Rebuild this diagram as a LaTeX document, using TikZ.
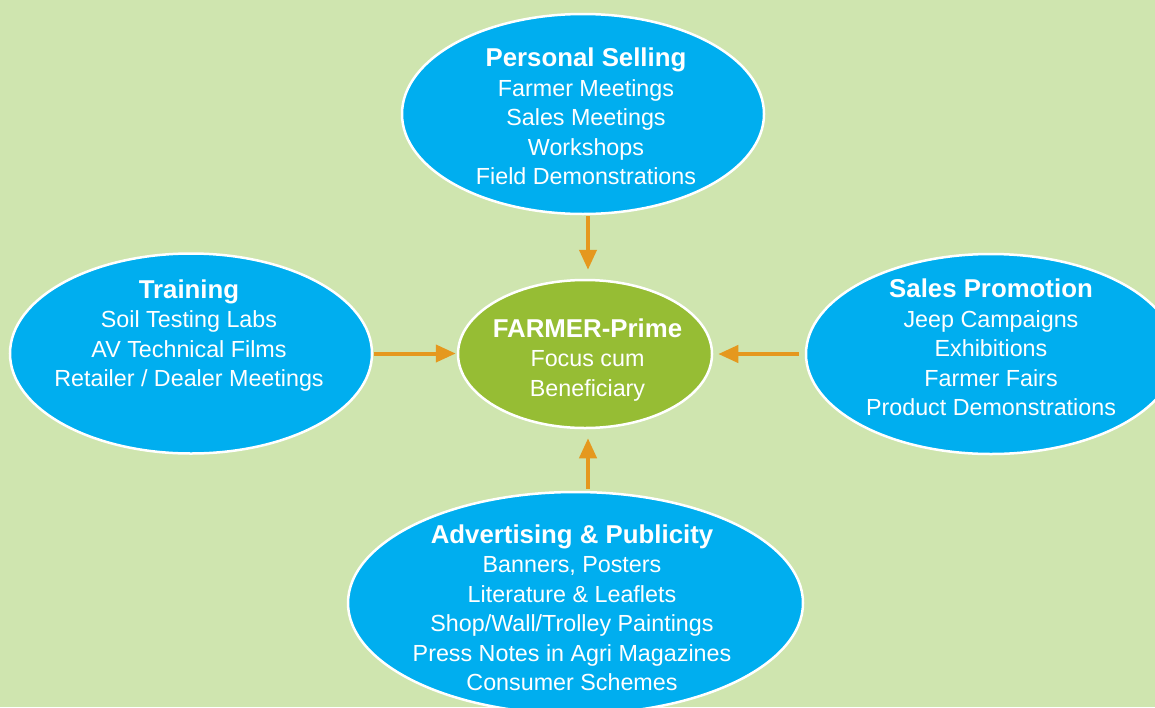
\documentclass[tikz,border=0pt]{standalone}
\usepackage{fontspec}
\setmainfont{Liberation Sans}
\usetikzlibrary{shapes.geometric,arrows.meta}
\definecolor{bgcol}{HTML}{CFE5AF}
\definecolor{bluecol}{HTML}{00AEEF}
\definecolor{greencol}{HTML}{96BD34}
\definecolor{arrcol}{HTML}{E5981E}
\tikzset{
  blob/.style={ellipse, draw=white, line width=2.5pt, fill=bluecol, inner sep=0pt},
  core/.style={ellipse, draw=white, line width=2.5pt, fill=greencol, inner sep=0pt},
  txt/.style={text=white, align=center, inner sep=0pt, font=\fontsize{23.3}{29.5}\selectfont},
  arr/.style={draw=arrcol, line width=4pt, -{Triangle[length=20pt,width=17pt]}},
}
\newcommand{\hd}[1]{{\fontsize{25.8}{29.5}\selectfont\bfseries #1}}
\begin{document}
\begin{tikzpicture}[x=1pt,y=-1pt]
\fill[bgcol] (0,0) rectangle (1155,707);
\useasboundingbox (0,0) rectangle (1155,707);

\node[blob, minimum width=362pt, minimum height=200pt] (ps) at (583,114) {};
\node[blob, minimum width=362pt, minimum height=200pt] (tr) at (191,353.5) {};
\node[blob, minimum width=370pt, minimum height=200pt] (sp) at (991,354) {};
\node[blob, minimum width=455pt, minimum height=222pt] (ad) at (575.5,603) {};
\node[core, minimum width=254pt, minimum height=148pt] (c) at (585,354) {};

\node[txt] (pst) at (586,116.5) {\hd{Personal Selling}\\Farmer Meetings\\Sales Meetings\\Workshops\\Field Demonstrations};
\node[txt] (trt) at (189,335.5) {\hd{Training}\\Soil Testing Labs\\AV Technical Films\\Retailer / Dealer Meetings};
\node[txt] (spt) at (991,347.5) {\hd{Sales Promotion}\\Jeep Campaigns\\Exhibitions\\Farmer Fairs\\Product Demonstrations};
\node[txt] (ct) at (587.5,360) {\hd{FARMER-Prime}\\Focus cum\\Beneficiary};
\node[txt] (adt) at (572,608) {\hd{Advertising \& Publicity}\\Banners, Posters\\Literature \& Leaflets\\Shop/Wall/Trolley Paintings\\Press Notes in Agri Magazines\\Consumer Schemes};

\draw[arr, shorten <=1pt, shorten >=9pt] ([xshift=5pt]ps.south) -- ([xshift=3pt]c.north);
\draw[arr, shorten <=1pt, shorten >=1pt] (tr.east) -- (tr.east -| c.west);
\draw[arr, shorten <=6pt, shorten >=5pt] (sp.west) -- (sp.west -| c.east);
\draw[arr, shorten <=2pt, shorten >=9pt] ([xshift=12.5pt]ad.north) -- ([xshift=3pt]c.south);
\end{tikzpicture}
\end{document}
